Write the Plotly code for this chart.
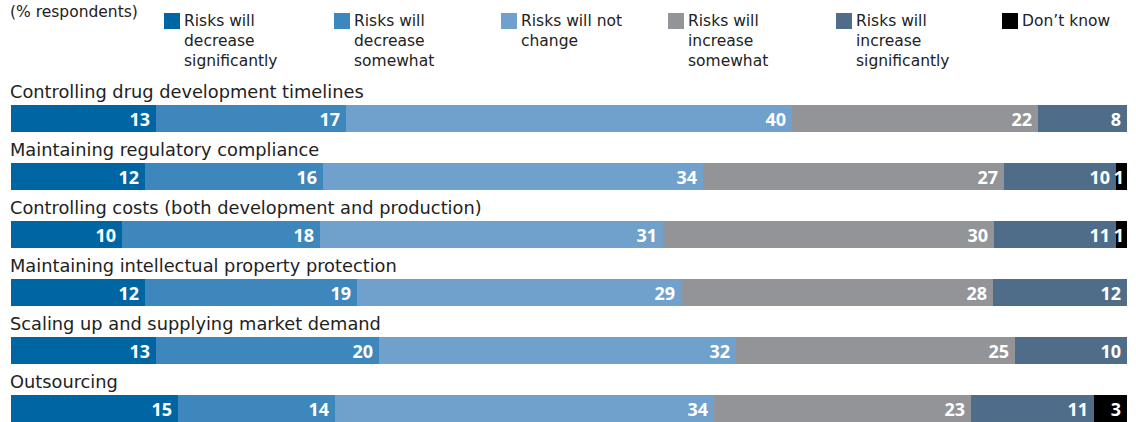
import plotly.graph_objects as go

# Survey rows (top to bottom)
categories = [
    "Controlling drug development timelines",
    "Maintaining regulatory compliance",
    "Controlling costs (both development and production)",
    "Maintaining intellectual property protection",
    "Scaling up and supplying market demand",
    "Outsourcing",
]

# Response series, % respondents per row
series_names = [
    "Risks will<br>decrease<br>significantly",
    "Risks will<br>decrease<br>somewhat",
    "Risks will not<br>change",
    "Risks will<br>increase<br>somewhat",
    "Risks will<br>increase<br>significantly",
    "Don\u2019t know",
]
decrease_significantly = [13, 12, 10, 12, 13, 15]
decrease_somewhat = [17, 16, 18, 19, 20, 14]
no_change = [40, 34, 31, 29, 32, 34]
increase_somewhat = [22, 27, 30, 28, 25, 23]
increase_significantly = [8, 10, 11, 12, 10, 11]
dont_know = [0, 1, 1, 0, 0, 3]

series_values = [
    decrease_significantly,
    decrease_somewhat,
    no_change,
    increase_somewhat,
    increase_significantly,
    dont_know,
]
colors = ["#0066A3", "#3D87BC", "#70A1CC", "#939498", "#4F6D88", "#000000"]

W, H = 1136, 422
L, R, T, B = 11, 9, 90, 0
plot_w = W - L - R
plot_h = H - T - B
ROW_PITCH = 58.0
FIRST_ROW_PX = 118.0

rows = list(range(len(categories)))


def bar_label(v):
    # thin trailing space gives wider segments a little breathing room
    if not v:
        return ""
    return f"{v}\u2009" if v >= 3 else str(v)


fig = go.Figure()
for name, vals, col in zip(series_names, series_values, colors):
    fig.add_trace(go.Bar(
        y=rows,
        x=vals,
        orientation="h",
        name=name,
        marker=dict(color=col, line=dict(width=0)),
        width=27 / ROW_PITCH,
        text=[bar_label(v) for v in vals],
        textposition="inside",
        insidetextanchor="end",
        textangle=0,
        textfont=dict(family="Open Sans", size=18, color="white", weight="bold"),
        showlegend=False,
        hoverinfo="skip",
    ))


def px_to_paper_x(px):
    return (px - L) / plot_w


def px_to_paper_y(py):
    return (H - B - py) / plot_h


annotations = []
shapes = []

# Row labels above each bar
for i, cat in enumerate(categories):
    annotations.append(dict(
        x=0, xref="paper", y=i, yref="y", yshift=27, xshift=-3,
        text=cat, showarrow=False, xanchor="left", yanchor="middle",
        font=dict(family="DejaVu Sans", size=17.8, color="#222222"),
    ))

# Legend: coloured square + wrapped label
legend_x = [164, 334, 501, 668, 836, 1002]
for lx, name, col in zip(legend_x, series_names, colors):
    shapes.append(dict(
        type="rect", xref="paper", yref="paper",
        x0=px_to_paper_x(lx), x1=px_to_paper_x(lx + 16),
        y0=px_to_paper_y(29), y1=px_to_paper_y(13),
        fillcolor=col, line=dict(width=0),
    ))
    annotations.append(dict(
        x=px_to_paper_x(lx + 18), xref="paper",
        y=px_to_paper_y(10), yref="paper",
        text=name, showarrow=False, xanchor="left", yanchor="top", align="left",
        font=dict(family="DejaVu Sans", size=15.5, color="#222222"),
    ))

annotations.append(dict(
    x=px_to_paper_x(8), xref="paper", y=px_to_paper_y(1), yref="paper",
    text="(% respondents)", showarrow=False, xanchor="left", yanchor="top",
    font=dict(family="DejaVu Sans", size=15.5, color="#222222"),
))

top_edge = (T - FIRST_ROW_PX) / ROW_PITCH
bottom_edge = (H - B - FIRST_ROW_PX) / ROW_PITCH

fig.update_layout(
    width=W, height=H,
    margin=dict(l=L, r=R, t=T, b=B, pad=0),
    barmode="stack",
    barnorm="percent",
    bargap=0,
    plot_bgcolor="white",
    paper_bgcolor="white",
    xaxis=dict(range=[0, 100], visible=False, fixedrange=True),
    yaxis=dict(range=[bottom_edge, top_edge], visible=False, fixedrange=True),
    uniformtext=dict(minsize=18, mode="show"),
    annotations=annotations,
    shapes=shapes,
)

fig.write_html("out.html")
